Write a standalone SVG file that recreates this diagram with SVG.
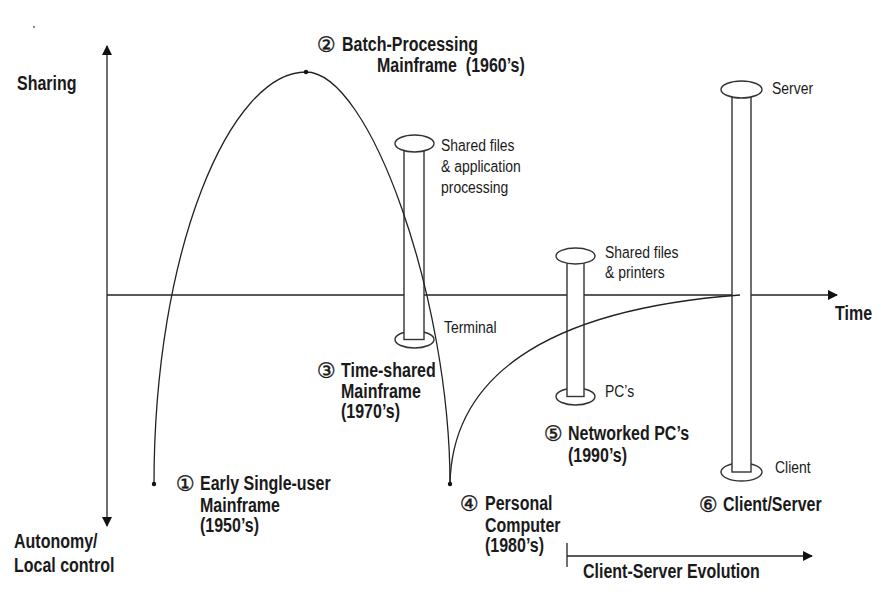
<svg xmlns="http://www.w3.org/2000/svg" width="881" height="607" viewBox="0 0 881 607">
<defs>
<style>
.ln{fill:none;stroke:#222;stroke-width:1.3}
.col{fill:#fff;stroke:#333;stroke-width:1.4}
.b{font-family:"Liberation Sans",Arial,sans-serif;font-weight:bold;font-size:19.5px;fill:#1a1a1a}
.r{font-family:"Liberation Sans",Arial,sans-serif;font-size:17px;fill:#1a1a1a}
.n{font-family:"DejaVu Sans","Noto Sans CJK SC",sans-serif;font-size:21px;fill:#1a1a1a;stroke:#1a1a1a;stroke-width:0.4}
.dot{fill:#111}
</style>
<marker id="ah" viewBox="0 0 10 10" refX="9" refY="5" markerWidth="10" markerHeight="10" markerUnits="userSpaceOnUse" orient="auto">
<path d="M0,0 L10,5 L0,10 z" fill="#111"/>
</marker>
</defs>
<rect width="881" height="607" fill="#fff"/>
<g id="axes">
<line class="ln" x1="107" y1="295" x2="107" y2="46" marker-end="url(#ah)"/>
<line class="ln" x1="107" y1="295" x2="107" y2="526" marker-end="url(#ah)"/>
<line class="ln" x1="107" y1="295" x2="837" y2="295" marker-end="url(#ah)"/>
<text class="b" transform="translate(17,90) scale(0.82,1)">Sharing</text>
<text class="b" transform="translate(14,548) scale(0.82,1)">Autonomy/</text>
<text class="b" transform="translate(14,572) scale(0.82,1)">Local control</text>
<text class="b" transform="translate(835,320) scale(0.82,1)">Time</text>
</g>
<g id="col-timeshared">
<ellipse class="col" cx="414.5" cy="339.5" rx="19.5" ry="8.5"/>
<rect class="col" x="404" y="143.5" width="20" height="196"/>
<ellipse class="col" cx="414.5" cy="143.5" rx="19.5" ry="8.5"/>
<text class="r" transform="translate(441,151) scale(0.82,1)">Shared files</text>
<text class="r" transform="translate(441,172) scale(0.82,1)">&amp; application</text>
<text class="r" transform="translate(441,193) scale(0.82,1)">processing</text>
<text class="r" transform="translate(444,333) scale(0.82,1)">Terminal</text>
</g>
<g id="col-networked">
<ellipse class="col" cx="575.5" cy="396.5" rx="19.5" ry="8.5"/>
<rect class="col" x="567" y="256" width="17" height="140.5"/>
<ellipse class="col" cx="575.5" cy="256" rx="19.5" ry="8"/>
<text class="r" transform="translate(605,258) scale(0.82,1)">Shared files</text>
<text class="r" transform="translate(605,278) scale(0.82,1)">&amp; printers</text>
<text class="r" transform="translate(605,397) scale(0.82,1)">PC’s</text>
</g>
<g id="col-clientserver">
<ellipse class="col" cx="741.5" cy="472" rx="20.5" ry="9"/>
<rect class="col" x="732" y="89.5" width="19" height="382.5"/>
<ellipse class="col" cx="741.5" cy="89.5" rx="20.5" ry="8.5"/>
<text class="r" transform="translate(772,94) scale(0.82,1)">Server</text>
<text class="r" transform="translate(775,473) scale(0.82,1)">Client</text>
</g>
<g id="connectors">
<path class="ln" d="M154,484 C154,250 230,72 306,72 C370,72 450,300 450,484"/>
<path class="ln" d="M450,484 C452,380 540,310 740,295"/>
<circle class="dot" cx="154" cy="484" r="2.2"/>
<circle class="dot" cx="306" cy="72" r="2.2"/>
<circle class="dot" cx="450" cy="484" r="2.2"/>
<line class="ln" x1="567" y1="543" x2="567" y2="567"/>
<line class="ln" x1="567" y1="556" x2="812" y2="556" marker-end="url(#ah)"/>
<text class="b" transform="translate(583,578) scale(0.82,1)">Client-Server Evolution</text>
</g>
<g id="stage1">
<text class="n" x="176" y="491">①</text>
<text class="b" transform="translate(200,490) scale(0.82,1)">Early Single-user</text>
<text class="b" transform="translate(200,512) scale(0.82,1)">Mainframe</text>
<text class="b" transform="translate(200,532) scale(0.82,1)">(1950’s)</text>
</g>
<g id="stage2">
<text class="n" x="317" y="52">②</text>
<text class="b" transform="translate(342,51) scale(0.82,1)">Batch-Processing</text>
<text class="b" transform="translate(377,72) scale(0.82,1)">Mainframe&#160; (1960’s)</text>
</g>
<g id="stage3">
<text class="n" x="317" y="378">③</text>
<text class="b" transform="translate(341,377) scale(0.82,1)">Time-shared</text>
<text class="b" transform="translate(341,398) scale(0.82,1)">Mainframe</text>
<text class="b" transform="translate(341,418) scale(0.82,1)">(1970’s)</text>
</g>
<g id="stage4">
<text class="n" x="460" y="511">④</text>
<text class="b" transform="translate(485,510) scale(0.82,1)">Personal</text>
<text class="b" transform="translate(485,532) scale(0.82,1)">Computer</text>
<text class="b" transform="translate(485,552) scale(0.82,1)">(1980’s)</text>
</g>
<g id="stage5">
<text class="n" x="544" y="441">⑤</text>
<text class="b" transform="translate(568,440) scale(0.82,1)">Networked PC’s</text>
<text class="b" transform="translate(568,462) scale(0.82,1)">(1990’s)</text>
</g>
<g id="stage6">
<text class="n" x="699" y="512">⑥</text>
<text class="b" transform="translate(723,511) scale(0.82,1)">Client/Server</text>
</g>
<circle cx="34" cy="27" r="1" fill="#666"/>
</svg>
